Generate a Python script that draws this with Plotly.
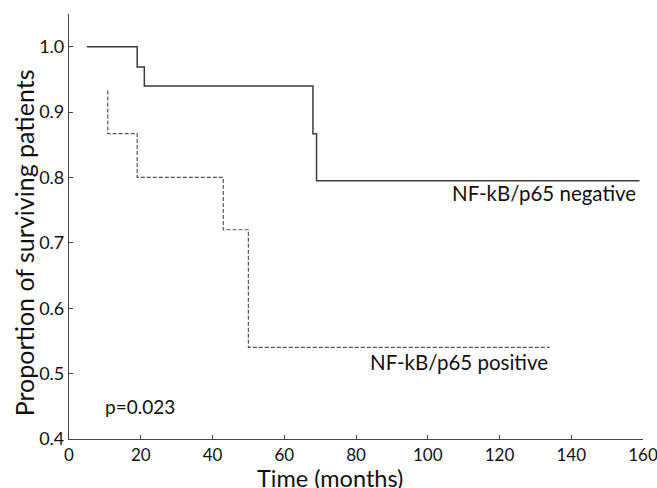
import plotly.graph_objects as go

# Kaplan-Meier step data
neg_time = [5, 19, 21, 68, 69, 159]
neg_surv = [1.0, 0.969, 0.940, 0.867, 0.795, 0.795]

pos_time = [10.8, 10.8, 19, 43, 50, 134]
pos_surv = [0.933, 0.867, 0.800, 0.720, 0.540, 0.540]

x_ticks = [0, 20, 40, 60, 80, 100, 120, 140, 160]
y_ticks = [0.4, 0.5, 0.6, 0.7, 0.8, 0.9, 1.0]
y_tick_text = ["0.4", "0.5", "0.6", "0.7", "0.8", "0.9", "1.0"]

FONT = "Lato, 'Open Sans', sans-serif"

fig = go.Figure()
fig.add_trace(go.Scatter(x=neg_time, y=neg_surv, mode="lines", line_shape="hv",
                         line=dict(color="#3a3a3a", width=1.5), showlegend=False))
fig.add_trace(go.Scatter(x=pos_time, y=pos_surv, mode="lines", line_shape="hv",
                         line=dict(color="#555555", width=1.2, dash="4px,2px"), showlegend=False))

fig.add_annotation(x=158.7, y=0.777, text="NF-kB/p65 negative", showarrow=False,
                   xanchor="right", yanchor="middle", font=dict(family=FONT, size=20.5, color="#111"))
fig.add_annotation(x=134, y=0.518, text="NF-kB/p65 positive", showarrow=False,
                   xanchor="right", yanchor="middle", font=dict(family=FONT, size=20.5, color="#111"))
fig.add_annotation(x=9.5, y=0.449, text="p=0.023", showarrow=False,
                   xanchor="left", yanchor="middle", font=dict(family=FONT, size=19, color="#111"))

# axis titles as annotations (positioned like the original)
fig.add_annotation(x=0.455, y=-0.092, xref="paper", yref="paper", text="Time (months)",
                   showarrow=False, xanchor="center", yanchor="middle",
                   font=dict(family=FONT, size=23.5, color="#111"))
fig.add_annotation(x=-0.079, y=0.462, xref="paper", yref="paper", text="Proportion of surviving patients",
                   showarrow=False, textangle=-90, xanchor="center", yanchor="middle",
                   font=dict(family=FONT, size=25, color="#111"))

fig.update_layout(
    width=657, height=488,
    margin=dict(l=69, r=14, t=14, b=49, autoexpand=False),
    paper_bgcolor="white", plot_bgcolor="white",
    font=dict(family=FONT, size=17.5, color="#111"),
)
fig.update_xaxes(range=[0, 160], tickvals=x_ticks, showgrid=False, zeroline=False,
                 showline=True, linecolor="#444", linewidth=1.2, automargin=False,
                 ticklabeloverflow="allow",
                 ticks="inside", ticklen=4, tickcolor="#444", tickfont=dict(size=17))
fig.update_yaxes(range=[0.4, 1.05], tickvals=y_ticks, ticktext=y_tick_text, showgrid=False,
                 zeroline=False, showline=True, linecolor="#444", linewidth=1.2, automargin=False,
                 ticklabeloverflow="allow",
                 ticks="inside", ticklen=4, tickcolor="#444", tickfont=dict(size=18))

fig.write_html("out.html", config={"displayModeBar": False},
               post_script="document.body.style.margin='0';document.body.style.overflow='hidden';")
